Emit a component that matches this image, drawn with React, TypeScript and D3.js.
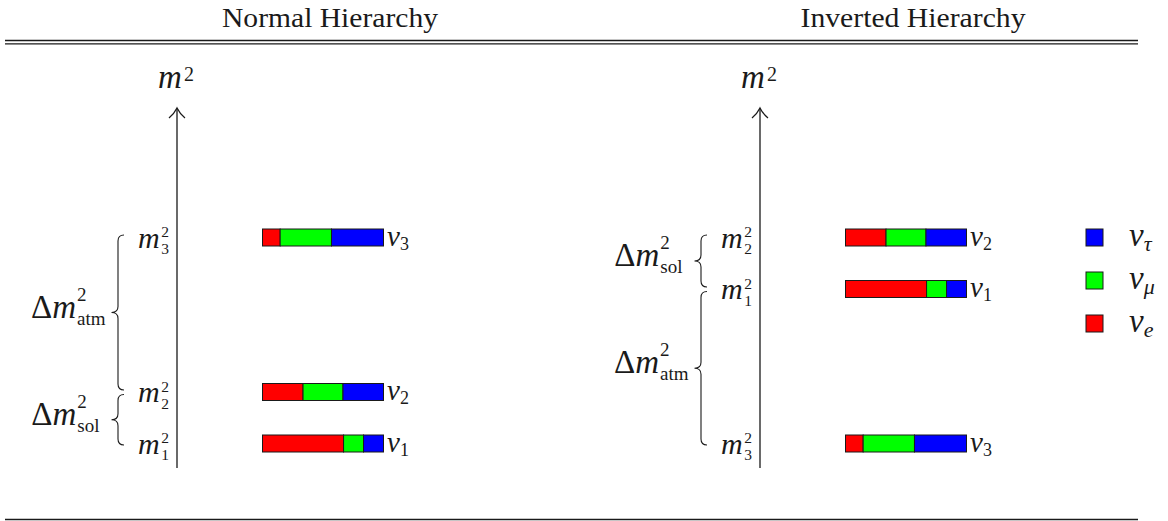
import React from "react";
import * as d3 from "d3";

// ---------- data ----------
const hierarchyTitles = ["Normal Hierarchy", "Inverted Hierarchy"];
const massIndices = ["1", "2", "3"];
// squared-mass level of m1, m2, m3 (arbitrary units)
const normalLevels = [0, 1, 4];
const invertedLevels = [3, 4, 0];
// flavour content of nu1, nu2, nu3
const fracE = [0.67, 0.335, 0.146];
const fracMu = [0.165, 0.33, 0.424];
const fracTau = [0.165, 0.335, 0.43];
const flavorKeys = ["e", "mu", "tau"];
const flavorSubs = ["e", "μ", "τ"];
// splittings: [label, lower mass index, upper mass index]
const normalSplittings: [string, number, number][] = [["atm", 1, 2], ["sol", 0, 1]];
const invertedSplittings: [string, number, number][] = [["sol", 0, 1], ["atm", 2, 0]];
const legendOrder = ["tau", "mu", "e"];

// ---------- style ----------
const W = 1168;
const H = 521;
const serif = "'Liberation Serif', 'Times New Roman', serif";
const flavorColor: Record<string, string> = { e: "#ff0000", mu: "#00ff00", tau: "#0000ff" };
const ink = "#1a1a1a";

const yScale = d3.scaleLinear().domain([0, 4]).range([443.5, 237.5]);
const barScale = d3.scaleLinear().domain([0, 1]).range([0, 121]);
const panelAxisX = [177, 760];

const rows = massIndices.map((_, i) => ({ e: fracE[i], mu: fracMu[i], tau: fracTau[i] }));
const stacked = d3.stack<any>().keys(flavorKeys)(rows);

function bracePath(xLine: number, top: number, bottom: number) {
  const a = 6;
  const tip = xLine - 6.5;
  const end = xLine + 6;
  const mid = (top + bottom) / 2;
  return [
    `M${end},${top}`,
    `Q${xLine},${top} ${xLine},${top + a}`,
    `L${xLine},${mid - a}`,
    `Q${xLine},${mid} ${tip},${mid}`,
    `Q${xLine},${mid} ${xLine},${mid + a}`,
    `L${xLine},${bottom - a}`,
    `Q${xLine},${bottom} ${end},${bottom}`,
  ].join(" ");
}

function Panel({ h }: { h: number }) {
  const axisX = panelAxisX[h];
  const levels = h === 0 ? normalLevels : invertedLevels;
  const splits = h === 0 ? normalSplittings : invertedSplittings;
  const barX = axisX + 85.5;
  const braceX = axisX - 59;
  return (
    <g>
      <text
        x={axisX + 153}
        y={27}
        fontFamily={serif}
        fontSize={28}
        textAnchor="middle"
        fill={ink}
        textLength={h === 0 ? 216 : 225}
        lengthAdjust="spacingAndGlyphs"
      >
        {hierarchyTitles[h]}
      </text>
      {/* axis */}
      <line x1={axisX} x2={axisX} y1={468} y2={108.5} stroke={ink} strokeWidth={1.3} />
      <path
        d={`M${axisX - 8},${118} Q${axisX - 3},${114} ${axisX},${108} Q${axisX + 3},${114} ${axisX + 8},${118}`}
        fill="none"
        stroke={ink}
        strokeWidth={1.3}
      />
      <text x={axisX - 1} y={88} fontFamily={serif} textAnchor="middle" fill={ink}>
        <tspan fontStyle="italic" fontSize={33}>m</tspan>
        <tspan fontSize={20} dx={2} dy={-7}>2</tspan>
      </text>

      {/* levels */}
      {massIndices.map((idx, i) => {
        const y = yScale(levels[i]);
        return (
          <g key={idx}>
            <text x={axisX - 8} y={y + 10} fontFamily={serif} textAnchor="end" fill={ink}>
              <tspan fontStyle="italic" fontSize={30}>m</tspan>
              <tspan fontSize={15.5} dx={1.5} dy={-10.5}>2</tspan>
              <tspan fontSize={15.5} dx={-7.75} dy={17}>{idx}</tspan>
            </text>
            {stacked.map((s) => (
              <rect
                key={s.key}
                x={barX + barScale(s[i][0])}
                y={y - 8.5}
                width={barScale(s[i][1]) - barScale(s[i][0])}
                height={17}
                fill={flavorColor[s.key]}
                stroke={ink}
                strokeWidth={1}
              />
            ))}
            <text x={barX + barScale(1) + 3.5} y={y + 8} fontFamily={serif} fill={ink}>
              <tspan fontStyle="italic" fontSize={29}>ν</tspan>
              <tspan fontSize={18} dy={4}>{idx}</tspan>
            </text>
          </g>
        );
      })}

      {/* braces */}
      {splits.map(([label, lo, hi], k) => {
        const yHi = yScale(levels[hi]);
        const yLo = yScale(levels[lo]);
        const sharedTop = splits.some(([, l2]) => l2 === hi);
        const sharedBottom = splits.some(([, , h2]) => h2 === lo);
        const top = yHi + (sharedTop ? 2.5 : -2.5);
        const bottom = yLo + (sharedBottom ? -2 : 1.5);
        const tipY = (top + bottom) / 2;
        const tipX = braceX - 6.5;
        const right = tipX - (label === "atm" ? 6 : 12);
        return (
          <g key={k}>
            <path d={bracePath(braceX, top, bottom)} fill="none" stroke={ink} strokeWidth={1.1} />
            <text x={right} y={tipY + 5} fontFamily={serif} fontSize={33} textAnchor="end" fill={ink}>
              <tspan>Δ</tspan>
              <tspan fontStyle="italic">m</tspan>
              <tspan fontSize={19} dx={1} dy={-17}>2</tspan>
              <tspan fontSize={19} dx={-9.5} dy={24}>{label}</tspan>
            </text>
          </g>
        );
      })}
    </g>
  );
}

export default function App() {
  return (
    <svg width={W} height={H} style={{ position: "absolute", left: 0, top: 0, background: "#fff" }}>
      <rect x={0} y={0} width={W} height={H} fill="#fff" />
      <line x1={5} x2={1138} y1={40.5} y2={40.5} stroke={ink} strokeWidth={1.3} />
      <line x1={5} x2={1138} y1={43.8} y2={43.8} stroke={ink} strokeWidth={1.3} />
      <line x1={5} x2={1138} y1={519.5} y2={519.5} stroke={ink} strokeWidth={1.3} />
      <Panel h={0} />
      <Panel h={1} />
      {/* legend */}
      {legendOrder.map((key, j) => {
        const cy = 237.5 + j * 43;
        const sub = flavorSubs[flavorKeys.indexOf(key)];
        return (
          <g key={key}>
            <rect x={1086} y={cy - 8.5} width={17} height={17} fill={flavorColor[key]} stroke={ink} strokeWidth={1} />
            <text x={1129} y={cy + 8} fontFamily={serif} fontStyle="italic" fill={ink}>
              <tspan fontSize={33}>ν</tspan>
              <tspan fontSize={22} dy={5}>{sub}</tspan>
            </text>
          </g>
        );
      })}
    </svg>
  );
}
